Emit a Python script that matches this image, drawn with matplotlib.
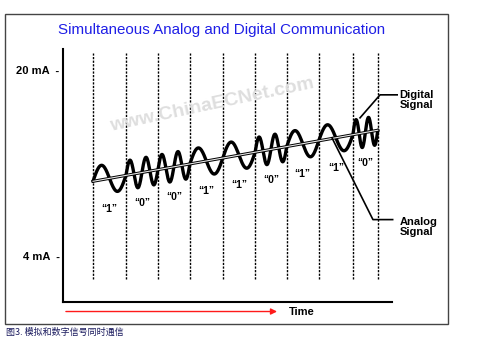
import matplotlib
matplotlib.use('Agg')
import matplotlib.pyplot as plt
import numpy as np
from matplotlib.patches import Rectangle

plt.rcParams['font.family'] = ['Liberation Sans', 'DejaVu Sans']

# data
bits = ['1', '0', '0', '1', '1', '0', '1', '1', '0']
bit_edges = [0, 1.02, 2.01, 3.0, 4.02, 5.02, 6.0, 6.99, 8.05, 8.82]
cycles_per_bit = {'1': 1, '0': 2}
analog_start = 10.4   # mA at first edge
analog_end = 14.8     # mA at last edge
fsk_amplitude = 1.25  # mA
ytick_values = [4, 20]
ytick_labels = ['4 mA  -', '20 mA  -']

title = 'Simultaneous Analog and Digital Communication'
caption = '图3. 模拟和数字信号同时通信'
watermark = 'www.ChinaECNet.com'


def analog(t):
    return analog_start + (analog_end - analog_start) * (t - bit_edges[0]) / (bit_edges[-1] - bit_edges[0])


fig = plt.figure(figsize=(5, 3.46), dpi=100)
ax = fig.add_axes([63 / 500, 44 / 346, 329 / 500, 253 / 346])
ax.set_xlim(-0.93, 9.26)
ax.set_ylim(0, 21.8)

# outer frame
fig.add_artist(Rectangle((5 / 500, 22 / 346), 443 / 500, 310 / 346, transform=fig.transFigure,
                         fill=False, edgecolor='#444444', lw=1.0))

for s in ['top', 'right']:
    ax.spines[s].set_visible(False)
for s in ['left', 'bottom']:
    ax.spines[s].set_linewidth(1.5)
ax.set_xticks([])
ax.set_yticks(ytick_values, labels=ytick_labels)
ax.tick_params(axis='y', length=0, pad=2.5, labelsize=8)
for lab in ax.get_yticklabels():
    lab.set_fontweight('bold')

# bit boundaries
for e in bit_edges:
    ax.plot([e, e], [2.0, 21.45], color='black', lw=1.0, ls=(0, (1.6, 1.0)))

# FSK waveform riding on analog level
ts, ys = [], []
for i, b in enumerate(bits):
    t0, t1 = bit_edges[i], bit_edges[i + 1]
    t = np.linspace(t0, t1, 80)
    ys.append(analog(t) + fsk_amplitude * np.sin(2 * np.pi * cycles_per_bit[b] * (t - t0) / (t1 - t0)))
    ts.append(t)
ax.plot(np.concatenate(ts), np.concatenate(ys), color='black', lw=2.4, solid_capstyle='round')

# analog line (outlined)
ax.plot([bit_edges[0], bit_edges[-1]], [analog_start, analog_end], color='black', lw=2.2)
ax.plot([bit_edges[0], bit_edges[-1]], [analog_start, analog_end], color='#e8e8e8', lw=0.8)

# bit labels
for i, b in enumerate(bits):
    mid = (bit_edges[i] + bit_edges[i + 1]) / 2
    ax.text(mid, analog(mid) - 2.6, '\u201c' + b + '\u201d', ha='center', va='center',
            fontsize=7.5, fontweight='bold')

# leader lines and labels
ax.plot([9.42, 8.89, 8.27], [17.85, 17.85, 15.87], color='black', lw=1.2, clip_on=False)
ax.text(9.5, 17.4, 'Digital\nSignal', ha='left', va='center', fontsize=8, fontweight='bold',
        linespacing=1.0)
ax.plot([9.28, 8.67, 7.40], [7.1, 7.1, 14.15], color='black', lw=1.2, clip_on=False)
ax.text(9.5, 6.45, 'Analog\nSignal', ha='left', va='center', fontsize=8, fontweight='bold',
        linespacing=1.0)

# time arrow
ax.annotate('', xy=(5.70, -0.82), xytext=(-0.84, -0.82), xycoords='data', annotation_clip=False,
            arrowprops=dict(arrowstyle='-|>', color='#ff1a1a', lw=1.0,
                            mutation_scale=9, shrinkA=0, shrinkB=0))
ax.text(6.47, -0.82, 'Time', ha='center', va='center', fontsize=8, fontweight='bold')

fig.text(222 / 500, 1 - 30 / 346, title, ha='center', va='center', fontsize=10.9, color='#1f1fe6')
fig.text(212 / 500, 1 - 105 / 346, watermark, ha='center', va='center', fontsize=14,
         fontweight='bold', color='#dedede', rotation=12)
fig.text(6 / 500, 1 - 332 / 346, caption, ha='left', va='center', fontsize=6.5, color='#1a1a5e',
         style='italic', family=['Noto Sans CJK SC', 'DejaVu Sans'])

fig.savefig('out.png', dpi=100)
